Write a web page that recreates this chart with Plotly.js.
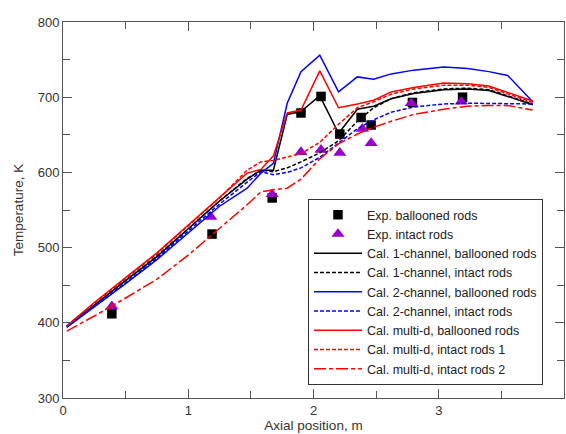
<!DOCTYPE html>
<html>
<head>
<meta charset="utf-8">
<script src="https://cdn.plot.ly/plotly-3.0.1.min.js"></script>
<style>html,body{margin:0;padding:0;background:#fff;}#chart{width:566px;height:434px;}</style>
</head>
<body>
<div id="chart"></div>
<script>
// Experimental data
var expBalloonedX = [0.39, 1.19, 1.67, 1.90, 2.06, 2.21, 2.38, 2.46, 2.79, 3.19];
var expBalloonedT = [412, 518, 566, 679, 701, 651, 673, 663, 693, 700];
var expIntactX = [0.39, 1.18, 1.67, 1.90, 2.06, 2.21, 2.39, 2.46, 2.78, 3.18];
var expIntactT = [422, 541, 571, 627, 630, 626, 658, 639, 692, 694];

// Calculated results (common axial grid)
var calX = [0.03, 0.25, 0.5, 0.75, 1.0, 1.25, 1.47, 1.58, 1.68, 1.79, 1.90, 2.05, 2.20, 2.35, 2.48, 2.62, 2.80, 3.04, 3.23, 3.40, 3.55, 3.75];
var cal1chBallooned = [395, 424, 456, 488, 525, 562, 591, 603, 603, 677, 681, 702, 652, 684, 688, 698, 705, 710, 711, 709, 701, 690];
var cal1chIntact    = [395, 424, 456, 489, 525, 562, 592, 603, 601, 606, 614, 626, 642, 668, 686, 698, 706, 711, 712, 710, 702, 691];
var cal2chBallooned = [394, 421, 452, 484, 520, 555, 579, 599, 612, 692, 734, 756, 707, 727, 724, 731, 736, 740, 738, 734, 729, 694];
var cal2chIntact    = [395, 422, 453, 486, 522, 558, 587, 601, 597, 600, 606, 620, 639, 658, 670, 680, 687, 691, 692, 692, 691, 691];
var calMdBallooned  = [396, 427, 460, 493, 530, 567, 599, 604, 622, 679, 683, 735, 686, 691, 696, 707, 713, 719, 718, 715, 706, 695];
var calMdIntact1    = [396, 426, 459, 492, 529, 566, 603, 614, 616, 621, 625, 640, 664, 686, 694, 704, 711, 716, 716, 713, 704, 693];
var calMdIntact2    = [389, 409, 433, 458, 490, 525, 557, 574, 577, 579, 591, 618, 638, 651, 660, 668, 677, 684, 688, 689, 689, 683];

var seriesNames = [
  'Exp. ballooned rods', 'Exp. intact rods',
  'Cal. 1-channel, ballooned rods', 'Cal. 1-channel, intact rods',
  'Cal. 2-channel, ballooned rods', 'Cal. 2-channel, intact rods',
  'Cal. multi-d, ballooned rods', 'Cal. multi-d, intact rods 1', 'Cal. multi-d, intact rods 2'
];

function makeLine(xs, ys, nm, color, dash) {
  return {x: xs, y: ys, name: nm, type: 'scatter', mode: 'lines',
          line: {color: color, width: 1.5, dash: dash}};
}

var traces = [
  {x: expBalloonedX, y: expBalloonedT, name: seriesNames[0], type: 'scatter', mode: 'markers',
   marker: {symbol: 'square', size: 9.5, color: '#000000'}},
  {x: expIntactX, y: expIntactT, name: seriesNames[1], type: 'scatter', mode: 'markers',
   marker: {symbol: 'triangle-up', size: 11.5, color: '#9900cc'}},
  makeLine(calX, cal1chBallooned, seriesNames[2], '#000000', 'solid'),
  makeLine(calX, cal1chIntact, seriesNames[3], '#000000', '4px,2px'),
  makeLine(calX, cal2chBallooned, seriesNames[4], '#0000ff', 'solid'),
  makeLine(calX, cal2chIntact, seriesNames[5], '#0000ff', '4px,2px'),
  makeLine(calX, calMdBallooned, seriesNames[6], '#ff0000', 'solid'),
  makeLine(calX, calMdIntact1, seriesNames[7], '#ff0000', '4px,2px'),
  makeLine(calX, calMdIntact2, seriesNames[8], '#ff0000', '12px,3px,4px,3px')
];

var axisCommon = {
  showgrid: false, zeroline: false, showline: true, linecolor: '#555', linewidth: 1,
  mirror: 'ticks', ticks: 'inside', ticklen: 9, tickcolor: '#555', tickwidth: 1,
  tickfont: {family: 'Liberation Sans, Arial, sans-serif', size: 13, color: '#333'}
};

var layout = {
  width: 566, height: 434,
  margin: {l: 63, r: 2, t: 22, b: 36},
  paper_bgcolor: '#fff', plot_bgcolor: '#fff',
  font: {family: 'Liberation Sans, Arial, sans-serif', size: 12, color: '#333'},
  xaxis: Object.assign({}, axisCommon, {
    range: [0, 4], dtick: 1, tick0: 0,
    minor: {dtick: 0.5, ticks: 'inside', ticklen: 7, tickcolor: '#555', tickwidth: 1},
    title: {text: 'Axial position, m', font: {size: 13.5, color: '#333'}, standoff: 3}
  }),
  yaxis: Object.assign({}, axisCommon, {
    range: [300, 800], dtick: 100, tick0: 300,
    minor: {dtick: 50, ticks: 'inside', ticklen: 7, tickcolor: '#555', tickwidth: 1},
    title: {text: 'Temperature, K', font: {size: 13.5, color: '#333'}, standoff: 10}
  }),
  showlegend: true,
  legend: {
    x: 0.489, y: 0.529, xanchor: 'left', yanchor: 'top',
    bgcolor: '#fff', bordercolor: '#333', borderwidth: 1,
    font: {size: 12.5, color: '#222'}, itemwidth: 48, tracegroupgap: 0,
    traceorder: 'normal'
  }
};

Plotly.newPlot('chart', traces, layout, {staticPlot: true, displayModeBar: false});
</script>
</body>
</html>
